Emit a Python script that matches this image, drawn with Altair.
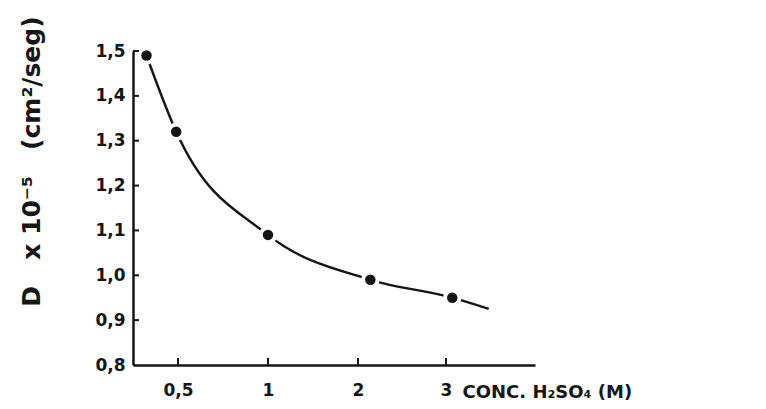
import altair as alt
import pandas as pd

# measured points
conc = [0.15, 0.48, 1.0, 2.14, 3.07]
diff = [1.49, 1.32, 1.09, 0.99, 0.95]
# smooth curve drawn through the points (ends a bit beyond the last point)
curve_conc = [0.15, 0.48, 1.0, 2.14, 3.07, 3.48]
curve_diff = [1.49, 1.32, 1.09, 0.99, 0.95, 0.925]

x_ticks = [0.5, 1, 2, 3]
y_ticks = [0.8, 0.9, 1.0, 1.1, 1.2, 1.3, 1.4, 1.5]
y_inner_ticks = [0.9, 1.0, 1.1, 1.2, 1.3, 1.4, 1.5]

NB = "\u00a0"
x_title = "CONC. H\u2082SO\u2084 (M)"
y_title = "D" + NB * 3 + "x" + NB + "10\u207b\u2075" + NB * 3 + "(cm\u00b2/seg)"

pts = pd.DataFrame({"c": conc, "d": diff})
crv = pd.DataFrame({"c": curve_conc, "d": curve_diff})
ytk = pd.DataFrame({"d": y_inner_ticks})
xtk = pd.DataFrame({"c": x_ticks})

W, H = 402, 314
FONT = "DejaVu Sans"
INK = "#151515"

xscale = alt.Scale(domain=[0, 0.5, 1, 2, 3, 4], range=[0, 45, 135, 225, 313, W])
yscale = alt.Scale(domain=[0.8, 1.5], zero=False, nice=False)

xaxis = alt.Axis(
    values=x_ticks, ticks=False, grid=False, domainWidth=2.5, domainColor=INK,
    labelExpr="replace('' + datum.value, '.', ',')", labelFont=FONT, labelFontSize=17,
    labelFontWeight="bold", labelColor=INK, labelPadding=17,
    title=x_title, titleFont=FONT, titleFontSize=18, titleFontWeight="bold", titleColor=INK,
    titleX=329, titleY=27, titleAlign="left", titleBaseline="middle", titleAngle=0,
)
yaxis = alt.Axis(
    values=y_ticks, ticks=False, grid=False, domainWidth=2.5, domainColor=INK,
    labelExpr="replace(format(datum.value, '.1f'), '.', ',')", labelFont=FONT, labelFontSize=17,
    labelColor=INK, labelPadding=8, labelFontWeight="bold",
    title=y_title, titleFont=FONT, titleFontSize=25, titleFontWeight="bold", titleColor=INK,
    titleX=-102, titleY=110, titleAngle=270, titleAlign="center", titleBaseline="middle",
)

x_enc = alt.X("c:Q", scale=xscale, axis=xaxis)
y_enc = alt.Y("d:Q", scale=yscale, axis=yaxis)

line = alt.Chart(crv).mark_line(
    interpolate="monotone", color=INK, strokeWidth=2.4
).encode(x=x_enc, y=y_enc)

halo = alt.Chart(pts).mark_point(
    filled=True, shape="circle", color="white", size=340, opacity=1
).encode(x=alt.X("c:Q", scale=xscale), y=alt.Y("d:Q", scale=yscale))

dots = alt.Chart(pts).mark_point(
    filled=True, shape="circle", color=INK, size=110, opacity=1
).encode(x=alt.X("c:Q", scale=xscale), y=alt.Y("d:Q", scale=yscale))

yticks = alt.Chart(ytk).mark_rule(color=INK, strokeWidth=2).encode(
    y=alt.Y("d:Q", scale=yscale), x=alt.value(0), x2=alt.value(6)
)
xticks = alt.Chart(xtk).mark_rule(color=INK, strokeWidth=2).encode(
    x=alt.X("c:Q", scale=xscale), y=alt.value(H), y2=alt.value(H - 7)
)

chart = alt.layer(line, halo, dots, yticks, xticks).properties(
    width=W, height=H, background="white",
    autosize=alt.AutoSizeParams(type="none"),
    padding={"left": 125, "top": 43, "right": 223, "bottom": 36},
).configure_view(stroke="transparent", strokeWidth=0)

chart.save("out.html", embed_options={"renderer": "svg", "actions": False})
